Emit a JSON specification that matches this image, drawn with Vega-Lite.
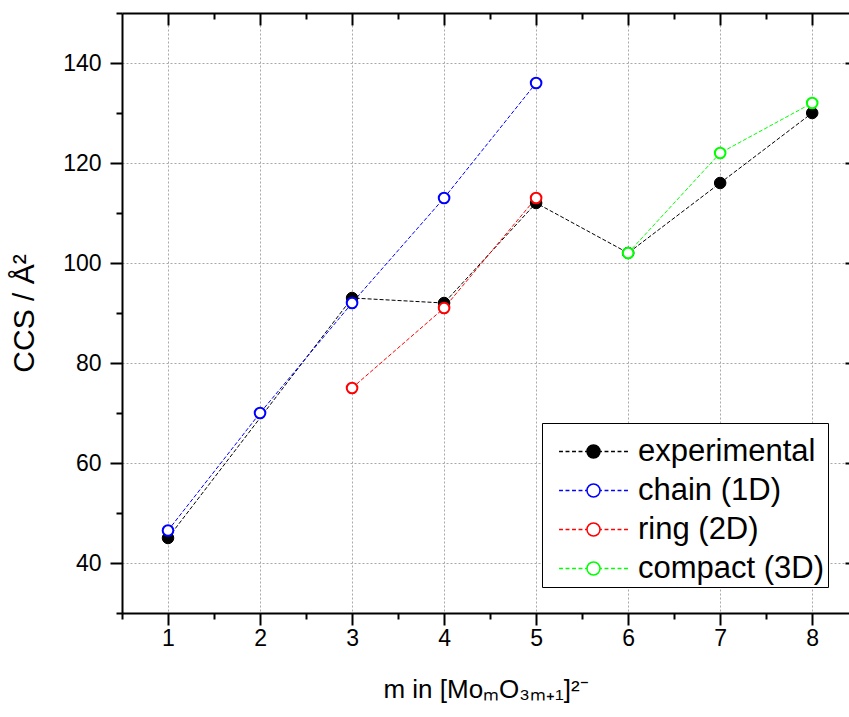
{
  "$schema": "https://vega.github.io/schema/vega-lite/v6.json",
  "width": 727,
  "height": 600,
  "autosize": {"type": "none"},
  "padding": {"left": 122, "top": 13, "right": 0, "bottom": 104},
  "background": "white",
  "config": {
    "view": {"stroke": null},
    "font": "Liberation Sans",
    "axis": {
      "labelFont": "Liberation Sans",
      "titleFont": "Liberation Sans",
      "labelColor": "black",
      "titleColor": "black",
      "titleFontWeight": "normal",
      "domainColor": "black",
      "tickColor": "black",
      "gridColor": "#a8a8a8",
      "gridDash": [2, 2],
      "gridWidth": 1
    },
    "legend": {
      "labelFont": "Liberation Sans",
      "titleFont": "Liberation Sans",
      "labelColor": "black"
    }
  },
  "data": {
    "values": [
      {"m": 1, "ccs": 45, "series": "experimental"},
      {"m": 3, "ccs": 93, "series": "experimental"},
      {"m": 4, "ccs": 92, "series": "experimental"},
      {"m": 5, "ccs": 112, "series": "experimental"},
      {"m": 6, "ccs": 102, "series": "experimental"},
      {"m": 7, "ccs": 116, "series": "experimental"},
      {"m": 8, "ccs": 130, "series": "experimental"},
      {"m": 1, "ccs": 46.5, "series": "chain (1D)"},
      {"m": 2, "ccs": 70, "series": "chain (1D)"},
      {"m": 3, "ccs": 92, "series": "chain (1D)"},
      {"m": 4, "ccs": 113, "series": "chain (1D)"},
      {"m": 5, "ccs": 136, "series": "chain (1D)"},
      {"m": 3, "ccs": 75, "series": "ring (2D)"},
      {"m": 4, "ccs": 91, "series": "ring (2D)"},
      {"m": 5, "ccs": 113, "series": "ring (2D)"},
      {"m": 6, "ccs": 102, "series": "compact (3D)"},
      {"m": 7, "ccs": 122, "series": "compact (3D)"},
      {"m": 8, "ccs": 132, "series": "compact (3D)"}
    ]
  },
  "layer": [
    {
      "transform": [{"filter": "datum.series === 'experimental'"}],
      "mark": {"type": "line", "strokeDash": [4, 2], "strokeWidth": 1},
      "encoding": {
        "x": {
          "field": "m", "type": "quantitative",
          "scale": {"domain": [0.5, 8.4], "nice": false, "zero": false},
          "axis": {
            "orient": "bottom", "values": [1, 2, 3, 4, 5, 6, 7, 8],
            "tickSize": 12, "tickWidth": 2, "domainWidth": 2,
            "labelFontSize": 23, "labelPadding": 2, "labelFlush": false,
            "grid": true,
            "title": "m in [MoₘO₃ₘ₊₁]²⁻", "titleFontSize": 26, "titlePadding": 26
          }
        },
        "y": {
          "field": "ccs", "type": "quantitative",
          "scale": {"domain": [30, 150], "nice": false, "zero": false},
          "axis": {
            "orient": "left", "values": [40, 60, 80, 100, 120, 140],
            "tickSize": 12, "tickWidth": 2, "domainWidth": 2,
            "labelFontSize": 23, "labelPadding": 9, "labelFlush": false,
            "grid": true,
            "title": "CCS / Å²", "titleFontSize": 30, "titlePadding": 23
          }
        },
        "color": {
          "field": "series", "type": "nominal",
          "scale": {"domain": ["compact (3D)", "ring (2D)", "chain (1D)", "experimental"], "range": ["#00ff00", "#ff0000", "#0000ff", "#000000"]},
          "legend": null
        }
      }
    },
    {
      "transform": [{"filter": "datum.series !== 'experimental'"}],
      "mark": {"type": "line", "strokeDash": [4, 2], "strokeWidth": 1},
      "encoding": {
        "x": {
          "field": "m", "type": "quantitative",
          "scale": {"domain": [0.5, 8.4], "nice": false, "zero": false},
          "axis": {
            "orient": "bottom", "values": [0.5, 1.5, 2.5, 3.5, 4.5, 5.5, 6.5, 7.5],
            "tickSize": 6, "tickWidth": 2, "domain": false, "labels": false, "grid": false, "title": null
          }
        },
        "y": {
          "field": "ccs", "type": "quantitative",
          "scale": {"domain": [30, 150], "nice": false, "zero": false},
          "axis": {
            "orient": "left", "values": [30, 50, 70, 90, 110, 130, 150],
            "tickSize": 6, "tickWidth": 2, "domain": false, "labels": false, "grid": false, "title": null
          }
        },
        "color": {
          "field": "series", "type": "nominal",
          "scale": {"domain": ["compact (3D)", "ring (2D)", "chain (1D)", "experimental"], "range": ["#00ff00", "#ff0000", "#0000ff", "#000000"]},
          "legend": null
        }
      }
    },
    {
      "transform": [{"filter": "datum.series === 'experimental'"}],
      "mark": {"type": "point", "shape": "circle", "size": 133, "strokeWidth": 1, "opacity": 1},
      "encoding": {
        "x": {
          "field": "m", "type": "quantitative",
          "scale": {"domain": [0.5, 8.4], "nice": false, "zero": false},
          "axis": {
            "orient": "top", "values": [1, 2, 3, 4, 5, 6, 7, 8],
            "tickSize": -12, "tickWidth": 2, "domainWidth": 2, "labels": false, "grid": false, "title": null
          }
        },
        "y": {
          "field": "ccs", "type": "quantitative",
          "scale": {"domain": [30, 150], "nice": false, "zero": false},
          "axis": {
            "orient": "right", "values": [40, 60, 80, 100, 120, 140],
            "tickSize": -4, "tickWidth": 2, "domain": false, "labels": false, "grid": false, "title": null
          }
        },
        "stroke": {
          "field": "series", "type": "nominal",
          "scale": {"domain": ["experimental", "chain (1D)", "ring (2D)", "compact (3D)"], "range": ["#000000", "#0000ff", "#ff0000", "#00ff00"]},
          "legend": {
            "title": " ",
            "titleFontSize": 10,
            "titlePadding": 0,
            "orient": "none",
            "legendX": 420,
            "legendY": 410,
            "padding": 3,
            "strokeColor": "black",
            "fillColor": "white",
            "cornerRadius": 0,
            "labelFontSize": 31,
            "labelLimit": 400,
            "rowPadding": 7,
            "symbolSize": 169,
            "symbolStrokeWidth": 1.5,
            "symbolOffset": 33,
            "labelOffset": 29,
            "symbolType": "M-5.3,0H-4.7M-4.3,0H-3.7M-3.3,0H-2.7M-2.3,0H-1.7M-1.3,0H-1.05M1.05,0H1.3M1.7,0H2.3M2.7,0H3.3M3.7,0H4.3M4.7,0H5.3M1,0A1,1,0,1,1,-1,0A1,1,0,1,1,1,0Z"
          }
        },
        "fill": {
          "field": "series", "type": "nominal",
          "scale": {"domain": ["experimental", "chain (1D)", "ring (2D)", "compact (3D)"], "range": ["#000000", "#ffffff", "#ffffff", "#ffffff"]}
        }
      }
    },
    {
      "transform": [{"filter": "datum.series !== 'experimental'"}],
      "mark": {"type": "point", "shape": "circle", "size": 113, "strokeWidth": 2, "opacity": 1},
      "encoding": {
        "x": {
          "field": "m", "type": "quantitative",
          "scale": {"domain": [0.5, 8.4], "nice": false, "zero": false},
          "axis": {
            "orient": "top", "values": [1.5, 2.5, 3.5, 4.5, 5.5, 6.5, 7.5],
            "tickSize": -6, "tickWidth": 2, "domain": false, "labels": false, "grid": false, "title": null
          }
        },
        "y": {
          "field": "ccs", "type": "quantitative",
          "scale": {"domain": [30, 150], "nice": false, "zero": false},
          "axis": null
        },
        "stroke": {
          "field": "series", "type": "nominal",
          "scale": {"domain": ["experimental", "chain (1D)", "ring (2D)", "compact (3D)"], "range": ["#000000", "#0000ff", "#ff0000", "#00ff00"]}
        },
        "fill": {
          "field": "series", "type": "nominal",
          "scale": {"domain": ["experimental", "chain (1D)", "ring (2D)", "compact (3D)"], "range": ["#000000", "#ffffff", "#ffffff", "#ffffff"]}
        }
      }
    }
  ],
  "resolve": {"axis": {"x": "independent", "y": "independent"}}
}
